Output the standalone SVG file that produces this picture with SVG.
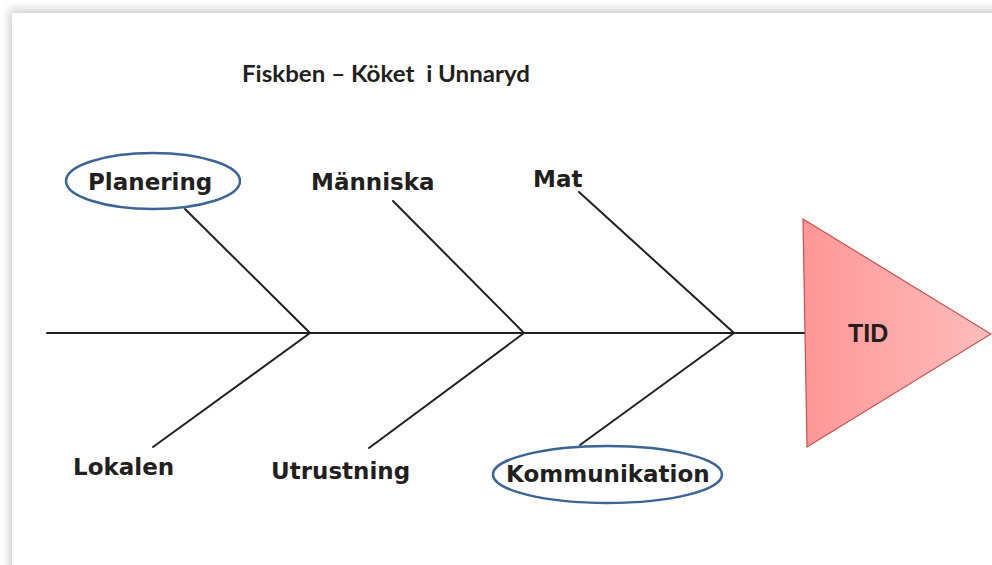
<svg xmlns="http://www.w3.org/2000/svg" width="992" height="565" viewBox="0 0 992 565">
<defs>
<filter id="sh" x="-5%" y="-5%" width="110%" height="110%">
<feDropShadow dx="-2" dy="-3" stdDeviation="5" flood-color="#000" flood-opacity="0.22"/>
</filter>
<linearGradient id="tri" x1="0" y1="0" x2="1" y2="0">
<stop offset="0" stop-color="#ff9797"/>
<stop offset="1" stop-color="#ffbcbc"/>
</linearGradient>
<style>
.bone{stroke:#231f20;stroke-width:2;fill:none;stroke-linecap:round}
.lbl{font-family:"DejaVu Sans",Verdana,sans-serif;font-weight:bold;font-size:23px;fill:#231f20}
.ring{fill:none;stroke:#3c6494;stroke-width:2.5}
</style>
</defs>
<rect width="992" height="565" fill="#fff"/>
<rect x="12" y="13" width="1000" height="600" fill="#fff" filter="url(#sh)"/>
<text id="title" x="242" y="82" font-family="Lato,'Open Sans',sans-serif" font-weight="bold" font-size="22" fill="#231f20" textLength="288" lengthAdjust="spacingAndGlyphs" xml:space="preserve">Fiskben – Köket  i Unnaryd</text>
<g id="connectors">
<line class="bone" x1="47" y1="333" x2="805" y2="333"/>
<line class="bone" x1="185" y1="209" x2="310" y2="333"/>
<line class="bone" x1="393" y1="201" x2="524" y2="333"/>
<line class="bone" x1="579" y1="192" x2="734" y2="333"/>
<line class="bone" x1="153" y1="447" x2="310" y2="333"/>
<line class="bone" x1="369" y1="448" x2="524" y2="333"/>
<line class="bone" x1="580" y1="445" x2="734" y2="333"/>
</g>
<g id="tid">
<polygon points="803,219 991,334 807,447" fill="url(#tri)" stroke="#c8504d" stroke-width="1.2"/>
<text x="848" y="342" font-family="'Liberation Sans',Arial,sans-serif" font-weight="bold" font-size="25" fill="#231f20">TID</text>
</g>
<g id="planering">
<ellipse class="ring" cx="153" cy="181" rx="87" ry="28"/>
<text class="lbl" x="88" y="190">Planering</text>
</g>
<g id="manniska">
<text class="lbl" x="311" y="190">Människa</text>
</g>
<g id="mat">
<text class="lbl" x="533" y="187">Mat</text>
</g>
<g id="lokalen">
<text class="lbl" x="73" y="475">Lokalen</text>
</g>
<g id="utrustning">
<text class="lbl" x="271" y="479">Utrustning</text>
</g>
<g id="kommunikation">
<ellipse class="ring" cx="607.5" cy="474.5" rx="114.5" ry="28.5"/>
<text class="lbl" x="506" y="482">Kommunikation</text>
</g>
</svg>
